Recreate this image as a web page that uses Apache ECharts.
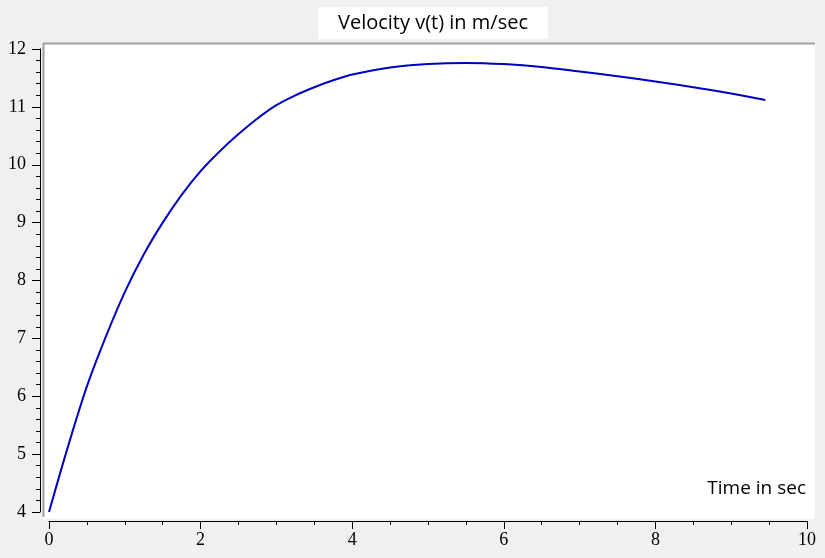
<!DOCTYPE html>
<html>
<head>
<meta charset="utf-8">
<style>html,body{margin:0;padding:0;background:#f0f0f0;}#c{width:825px;height:558px;}</style>
<script src="https://cdn.jsdelivr.net/npm/echarts@6/dist/echarts.min.js"></script>
</head>
<body>
<div id="c"></div>
<script>
var titleText = 'Velocity v(t) in m/sec';
var xName = 'Time in sec';
var times = [0, 0.25, 0.5, 0.75, 1.0, 1.25, 1.5, 1.75, 2.0, 2.25, 2.5, 2.75, 3.0, 3.25, 3.5, 3.75, 4.0, 4.5, 5.0, 5.5, 6.0, 6.5, 7.0, 7.5, 8.0, 8.5, 9.0, 9.45];
var velocity = [4.0, 5.13, 6.17, 7.03, 7.80, 8.45, 9.0, 9.48, 9.89, 10.23, 10.53, 10.8, 11.03, 11.2, 11.34, 11.46, 11.56, 11.68, 11.74, 11.76, 11.74, 11.69, 11.61, 11.53, 11.44, 11.34, 11.23, 11.12];

var pts = times.map(function (t, i) { return [t, velocity[i]]; });
var chart = echarts.init(document.getElementById('c'), null, {renderer: 'canvas'});
var labelFont = {color: '#000', fontFamily: 'Liberation Serif', fontSize: 18};
chart.setOption({
  backgroundColor: '#f0f0f0',
  animation: false,
  title: {
    text: titleText, left: 318, top: 7,
    backgroundColor: '#fff', padding: [6, 20, 6, 20],
    textStyle: {fontFamily: 'Open Sans', fontSize: 20, fontWeight: 'normal', color: '#000'}
  },
  graphic: [
    {type: 'rect', z: -10, shape: {x: 43, y: 43, width: 772, height: 476}, style: {fill: '#fff'}},
    {type: 'line', z: -5, shape: {x1: 43, y1: 43.5, x2: 815, y2: 43.5}, style: {stroke: '#a0a0a0', lineWidth: 2}},
    {type: 'line', z: -5, shape: {x1: 43.5, y1: 43, x2: 43.5, y2: 517}, style: {stroke: '#a0a0a0', lineWidth: 2}},
    {type: 'text', right: 19, top: 479, style: {text: xName, fontFamily: 'Open Sans', fontSize: 19, fill: '#000'}}
  ],
  grid: {left: 49, right: 18, top: 49, bottom: 46, containLabel: false},
  xAxis: {
    type: 'value', min: 0, max: 10, interval: 2, offset: 9,
    axisLine: {show: true, onZero: false, lineStyle: {color: '#000', width: 1}},
    axisTick: {show: true, length: 8, lineStyle: {color: '#000'}},
    minorTick: {show: true, splitNumber: 4, length: 4, lineStyle: {color: '#000'}},
    splitLine: {show: false},
    axisLabel: Object.assign({margin: 10}, labelFont)
  },
  yAxis: {
    type: 'value', min: 4, max: 12, interval: 1, offset: 9,
    axisLine: {show: true, onZero: false, lineStyle: {color: '#000', width: 1}},
    axisTick: {show: true, length: 8, lineStyle: {color: '#000'}},
    minorTick: {show: true, splitNumber: 5, length: 4, lineStyle: {color: '#000'}},
    splitLine: {show: false},
    axisLabel: Object.assign({margin: 14}, labelFont)
  },
  series: [{
    type: 'line', data: pts, smooth: 0.3, showSymbol: false,
    lineStyle: {color: '#0000c0', width: 2}
  }]
});
</script>
</body>
</html>
